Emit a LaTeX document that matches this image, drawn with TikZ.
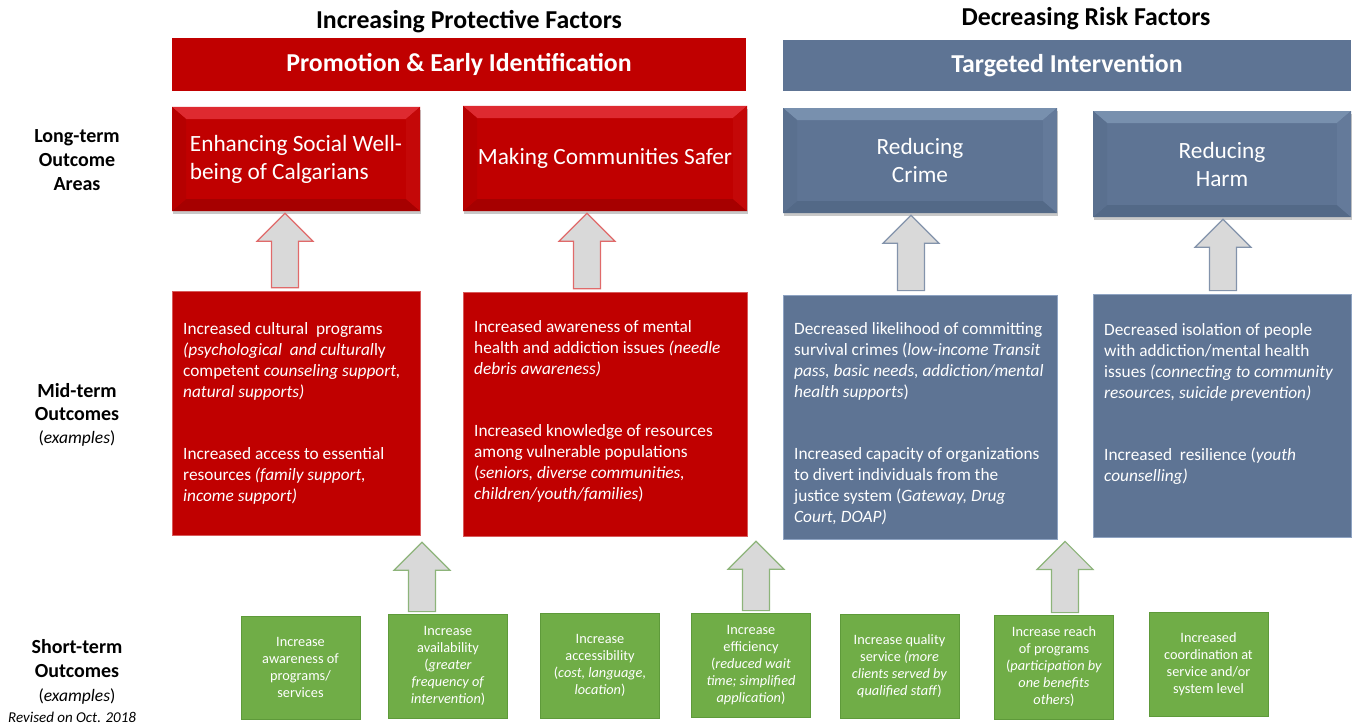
\documentclass[tikz,border=0pt]{standalone}
\usepackage{fontspec}
\setmainfont{Carlito}
\usetikzlibrary{calc,shadows}
\definecolor{cred}{HTML}{C00000}
\definecolor{credlt}{HTML}{DE2A30}
\definecolor{credside}{HTML}{C40808}
\definecolor{creddk}{HTML}{A60000}
\definecolor{cblue}{HTML}{5E7494}
\definecolor{cbluelt}{HTML}{7890AE}
\definecolor{cblueside}{HTML}{647A9A}
\definecolor{cbluedk}{HTML}{536987}
\definecolor{cblueedge}{HTML}{8EA3C2}
\definecolor{credge}{HTML}{D85A5A}
\definecolor{cgreen}{HTML}{70AD47}
\definecolor{cgreendk}{HTML}{5E9A3A}
\definecolor{cgray}{HTML}{D9D9D9}
\definecolor{credline}{HTML}{E06A6A}
\definecolor{cblueline}{HTML}{8393AB}
\definecolor{cgreenline}{HTML}{8DB47A}
\newcommand\blockarr[6]{%
  \draw[#1] let \p1=(#3), \p2=(#5) in
   (#2pt,\y1-#4pt) -- (#2pt+28pt,\y1-#4pt-28pt) -- (#2pt+13.5pt,\y1-#4pt-28pt)
   -- (#2pt+13.5pt,\y2+#6pt) -- (#2pt-13.5pt,\y2+#6pt) -- (#2pt-13.5pt,\y1-#4pt-28pt)
   -- (#2pt-28pt,\y1-#4pt-28pt) -- cycle;}
\tikzset{
  bevelpp/.style n args={4}{fill=#1, path picture={
    \fill[#2] (path picture bounding box.north west) -- (path picture bounding box.north east)
      -- ([xshift=-14pt,yshift=-12pt]path picture bounding box.north east)
      -- ([xshift=14pt,yshift=-12pt]path picture bounding box.north west) -- cycle;
    \fill[#3] (path picture bounding box.south west) -- (path picture bounding box.south east)
      -- ([xshift=-14pt,yshift=12pt]path picture bounding box.south east)
      -- ([xshift=14pt,yshift=12pt]path picture bounding box.south west) -- cycle;
    \fill[#3!40!#1] (path picture bounding box.north west)
      -- ([xshift=14pt,yshift=-12pt]path picture bounding box.north west)
      -- ([xshift=14pt,yshift=12pt]path picture bounding box.south west)
      -- (path picture bounding box.south west) -- cycle;
    \fill[#4] (path picture bounding box.north east)
      -- ([xshift=-14pt,yshift=-12pt]path picture bounding box.north east)
      -- ([xshift=-14pt,yshift=12pt]path picture bounding box.south east)
      -- (path picture bounding box.south east) -- cycle;
  }},
  ltbox/.style={inner sep=0pt, text=white, align=center,
    font=\fontsize{23.3}{28}\selectfont,
    drop shadow={shadow xshift=0.5pt, shadow yshift=-3pt, opacity=0.3, fill=black!70}},
  ltred/.style={ltbox, bevelpp={cred}{credlt}{creddk}{credside}},
  ltblue/.style={ltbox, bevelpp={cblue}{cbluelt}{cbluedk}{cblueside}},
  midred/.style={fill=cred, draw=credge, line width=0.6pt, inner sep=0pt},
  midblue/.style={fill=cblue, draw=cblueedge, line width=0.8pt, inner sep=0pt},
  midtxt/.style={inner sep=0pt, text=white, align=left, anchor=north west,
    font=\fontsize{17.3}{21}\selectfont},
  gbox/.style={fill=cgreen, draw=cgreendk, line width=0.8pt, text=white, align=center,
    font=\fontsize{14.3}{17}\selectfont, minimum width=119pt, minimum height=104pt, inner sep=0pt},
  banner/.style={inner sep=0pt, text=white, font=\fontsize{25.8}{30}\selectfont\bfseries},
  hdr/.style={inner sep=0pt, font=\fontsize{25.8}{30}\selectfont\bfseries},
  lbl/.style={inner sep=0pt, align=center},
  arrred/.style={fill=cgray, draw=credline, line width=1.2pt, line join=miter},
  arrblue/.style={fill=cgray, draw=cblueline, line width=1.2pt, line join=miter},
  arrgreen/.style={fill=cgray, draw=cgreenline, line width=1.2pt, line join=miter},
}
\begin{document}
\begin{tikzpicture}[x=1pt,y=-1pt]
\useasboundingbox[fill=white] (0,0) rectangle (1353,725);

% headers
\node[hdr] (h1) at (469,22) {Increasing Protective Factors};
\node[hdr] (h2) at (1086,19) {Decreasing Risk Factors};

% banners
\node[banner, fill=cred, minimum width=574pt, minimum height=53pt] (ban1) at (459,64.5) {Promotion \& Early Identification};
\node[banner, fill=cblue, minimum width=568pt, minimum height=51pt] (ban2) at (1067,65.5) {Targeted Intervention};

% left labels
\node[lbl, font=\fontsize{20}{24}\selectfont\bfseries] (lab1) at (77,160) {Long-term\\Outcome\\Areas};
\node[lbl, font=\fontsize{20}{23}\selectfont] (lab2) at (77,415) {\textbf{Mid-term}\\\textbf{Outcomes}\\{\fontsize{17.5}{20}\selectfont(\textit{examples})}};
\node[lbl, font=\fontsize{20}{24}\selectfont] (lab3) at (77,672) {\textbf{Short-term}\\\textbf{Outcomes}\\{\fontsize{17.5}{20}\selectfont(\textit{examples})}};
\node[inner sep=0pt, anchor=west, font=\fontsize{15}{18}\selectfont\itshape] (rev) at (8,717) {Revised on Oct. 2018};

% long-term boxes
\node[ltred, minimum width=248pt, minimum height=104pt, align=left] (lt1) at (296,159) {Enhancing Social Well-\\being of Calgarians};
\node[ltred, minimum width=284pt, minimum height=105pt] (lt2) at (605,158.5) {Making Communities Safer};
\node[ltblue, minimum width=274pt, minimum height=105pt] (lt3) at (920,160.5) {Reducing\\Crime};
\node[ltblue, minimum width=258pt, minimum height=106pt] (lt4) at (1222,164) {Reducing\\Harm};

% mid-term boxes
\node[midred, minimum width=248pt, minimum height=244pt] (m1) at (296,413) {};
\node[midred, minimum width=284pt, minimum height=244pt] (m2) at (605,414) {};
\node[midblue, minimum width=274pt, minimum height=244pt] (m3) at (920,417) {};
\node[midblue, minimum width=258pt, minimum height=243pt] (m4) at (1222,415.5) {};

\node[midtxt] (m1t) at (183,322) {Increased cultural\ \ programs\\
\textit{(psychological\ \ and cultural}ly\\
competent \textit{counseling support,}\\
\textit{natural supports)}\\[41pt]
Increased access to essential\\
resources \textit{(family support,}\\
\textit{income support)}};
\node[midtxt] (m2t) at (474,320) {Increased awareness of mental\\
health and addiction issues \textit{(needle}\\
\textit{debris awareness)}\\[41pt]
Increased knowledge of resources\\
among vulnerable populations\\
(\textit{seniors, diverse communities,}\\
\textit{children/youth/families})};
\node[midtxt] (m3t) at (794,322) {Decreased likelihood of committing\\
survival crimes (\textit{low-income Transit}\\
\textit{pass, basic needs, addiction/mental}\\
\textit{health supports})\\[41pt]
Increased capacity of organizations\\
to divert individuals from the\\
justice system (\textit{Gateway, Drug}\\
\textit{Court, DOAP)}};
\node[midtxt] (m4t) at (1104,323) {Decreased isolation of people\\
with addiction/mental health\\
issues \textit{(connecting to community}\\
\textit{resources, suicide prevention)}\\[41pt]
Increased\ \ resilience (\textit{youth}\\
\textit{counselling)}};

% short-term boxes
\node[gbox, minimum height=103pt] (g1) at (300.5,667.5) {Increase\\awareness of\\programs/\\services};
\node[gbox] (g2) at (448,666) {Increase\\availability\\(\textit{greater}\\\textit{frequency of}\\\textit{intervention})};
\node[gbox, minimum height=105pt] (g3) at (600,665.5) {Increase\\accessibility\\(\textit{cost, language,}\\\textit{location})};
\node[gbox] (g4) at (751,665) {Increase\\efficiency\\(\textit{reduced wait}\\\textit{time; simplified}\\\textit{application})};
\node[gbox] (g5) at (899.5,666) {Increase quality\\service \textit{(more}\\\textit{clients served by}\\\textit{qualified staff})};
\node[gbox] (g6) at (1054,667) {Increase reach\\of programs\\(\textit{participation by}\\\textit{one benefits}\\\textit{others})};
\node[gbox] (g7) at (1208.5,664) {Increased\\coordination at\\service and/or\\system level};

% arrows mid -> long-term
\blockarr{arrred}{285}{lt1.south}{2}{m1.north}{3}
\blockarr{arrred}{587}{lt2.south}{2}{m2.north}{3}
\blockarr{arrblue}{911}{lt3.south}{2}{m3.north}{4}
\blockarr{arrblue}{1223}{lt4.south}{2}{m4.north}{3}

% arrows short-term -> mid-term
\blockarr{arrgreen}{422}{m1.south}{7}{g2.north}{2}
\blockarr{arrgreen}{756}{m2.south}{5}{g4.north}{2}
\blockarr{arrgreen}{1065}{m3.south}{2}{g6.north}{2}
\end{tikzpicture}
\end{document}
